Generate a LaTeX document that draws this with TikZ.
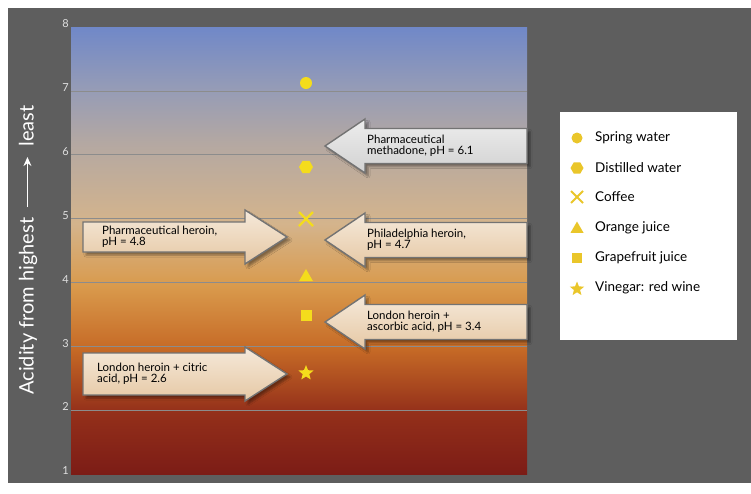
\documentclass[tikz,border=0pt]{standalone}
\usepackage{fontspec}
\setmainfont{Lato}
\usetikzlibrary{arrows.meta,shadows.blur,shapes.geometric}

\definecolor{phred}{HTML}{7C1C16}
\definecolor{phredb}{HTML}{94301A}
\definecolor{phorange}{HTML}{C66A26}
\definecolor{phamber}{HTML}{D99A4C}
\definecolor{phbeige}{HTML}{D4B48C}
\definecolor{phtaupe}{HTML}{B4A8A2}
\definecolor{phgray}{HTML}{969CB6}
\definecolor{phblue}{HTML}{7088C8}
\definecolor{phframe}{HTML}{5E5E5E}
\definecolor{phmark}{HTML}{F4DC1C}
\definecolor{phleg}{HTML}{EAC62A}
\definecolor{phbuff}{HTML}{E6C8A4}
\definecolor{phsilver}{HTML}{D2D2D2}

% background of the plot, bottom (1) to top (8)
\pgfdeclareverticalshading{phsky}{100bp}{
  color(0bp)=(phred); color(25bp)=(phred); color(32bp)=(phredb);
  color(39bp)=(phorange); color(46bp)=(phamber); color(53bp)=(phbeige);
  color(62bp)=(phtaupe); color(68bp)=(phgray); color(75bp)=(phblue); color(100bp)=(phblue)}

\tikzset{
  phbox/.style={draw=black!55, line width=1.4pt, top color=#1!40!white, bottom color=#1,
    blur shadow={shadow xshift=3pt, shadow yshift=-3pt, shadow opacity=40}},
  phtext/.style={anchor=west, align=left, font=\fontsize{11.5}{11}\selectfont, inner sep=0pt},
  tick/.style={anchor=south east, text=black!12, font=\fontsize{11}{11}\selectfont, inner sep=1pt},
  legtext/.style={anchor=west, font=\fontsize{13.5}{14}\selectfont, inner sep=0pt},
  grid line/.style={draw=black!45, line width=0.6pt}
}

% right-pointing arrow: left x, head base x, tip x, centre y, body half, head half
\newcommand{\rarrow}[7]{%
  \draw[phbox=#7] (#1,#4-#5) -- (#2,#4-#5) -- (#2,#4-#6) -- (#3,#4)
    -- (#2,#4+#6) -- (#2,#4+#5) -- (#1,#4+#5) -- cycle;}
% left-pointing arrow: tip x, head base x, right x, centre y, body half, head half
\newcommand{\larrow}[7]{%
  \draw[phbox=#7] (#1,#4) -- (#2,#4-#6) -- (#2,#4-#5) -- (#3,#4-#5)
    -- (#3,#4+#5) -- (#2,#4+#5) -- (#2,#4+#6) -- cycle;}

\begin{document}
\begin{tikzpicture}[x=1pt, y=-1pt]
\useasboundingbox (0,0) rectangle (751,493);
\fill[white] (0,0) rectangle (751,493);
\fill[phframe] (8,8) rectangle (751,483);

% plot area
\shade[shading=phsky] (71,27) rectangle (527,474);
\foreach \v in {2,...,7}
  \draw[grid line] (71,{27+(8-\v)*63.86}) -- (527,{27+(8-\v)*63.86});
\foreach \v in {1,...,8}
  \node[tick] (tick\v) at (70,{27+(8-\v)*63.86+2}) {\v};

% axis title
\node[rotate=90, text=white, font=\fontsize{20}{20}\selectfont] (ytitle) at (28,250)
  {Acidity from highest\enspace\tikz[baseline=-0.6ex]\draw[-{Stealth[length=9pt,width=8pt]},line width=1.4pt,white] (0pt,0pt) -- (50pt,0pt);\enspace least};

% markers
\node[circle, fill=phmark, minimum size=12pt, inner sep=0pt] (spring) at (306,83) {};
\node[regular polygon, regular polygon sides=6, fill=phmark, minimum size=14pt, inner sep=0pt] (distilled) at (306,167) {};
\node[inner sep=0pt] (coffee) at (306,219) {};
\draw[phmark, line width=2.2pt] (299,212) -- (313,226) (313,212) -- (299,226);
\node[regular polygon, regular polygon sides=3, fill=phmark, minimum size=16pt, inner sep=0pt] (orange) at (306,277) {};
\node[rectangle, fill=phmark, minimum size=11pt, inner sep=0pt] (grapefruit) at (306,315) {};
\node[star, star points=5, star point ratio=2.3, fill=phmark, minimum size=16pt, inner sep=0pt] (vinegar) at (306,373) {};

% arrows
\larrow{325}{365}{527}{146}{17.5}{27}{phsilver}
\node[phtext] (methadone) at (367,146) {Pharmaceutical\\methadone, pH = 6.1};
\rarrow{83}{245}{287}{237}{15}{27}{phbuff}
\node[phtext] (pharmheroin) at (102,237) {Pharmaceutical heroin,\\pH = 4.8};
\larrow{325}{365}{527}{240}{17.5}{27}{phbuff}
\node[phtext] (phillyheroin) at (367,240) {Philadelphia heroin,\\pH = 4.7};
\larrow{325}{365}{527}{322}{17.5}{27}{phbuff}
\node[phtext] (ascorbic) at (367,322) {London heroin +\\ascorbic acid, pH = 3.4};
\rarrow{83}{245}{287}{374}{21}{27}{phbuff}
\node[phtext] (citric) at (97,374) {London heroin + citric\\acid, pH = 2.6};

% legend
\node[fill=white, minimum width=177pt, minimum height=228pt, inner sep=0pt] (legend) at (648.5,226) {};
\node[circle, fill=phleg, minimum size=11pt, inner sep=0pt] (lspring) at (577,138) {};
\node[legtext] (lspringt) at (595,138) {Spring water};
\node[regular polygon, regular polygon sides=6, fill=phleg, minimum size=13pt, inner sep=0pt] (ldistilled) at (577,168) {};
\node[legtext] (ldistilledt) at (595,168) {Distilled water};
\node[inner sep=0pt] (lcoffee) at (577,197) {};
\draw[phleg, line width=2pt] (571,191) -- (583,203) (583,191) -- (571,203);
\node[legtext] (lcoffeet) at (595,197) {Coffee};
\node[regular polygon, regular polygon sides=3, fill=phleg, minimum size=15pt, inner sep=0pt] (lorange) at (577,229) {};
\node[legtext] (loranget) at (595,228) {Orange juice};
\node[rectangle, fill=phleg, minimum size=10pt, inner sep=0pt] (lgrapefruit) at (577,258) {};
\node[legtext] (lgrapefruitt) at (595,258) {Grapefruit juice};
\node[star, star points=5, star point ratio=2.3, fill=phleg, minimum size=15pt, inner sep=0pt] (lvinegar) at (577,289) {};
\node[legtext] (lvinegart) at (595,288) {Vinegar: red wine};
\end{tikzpicture}
\end{document}
